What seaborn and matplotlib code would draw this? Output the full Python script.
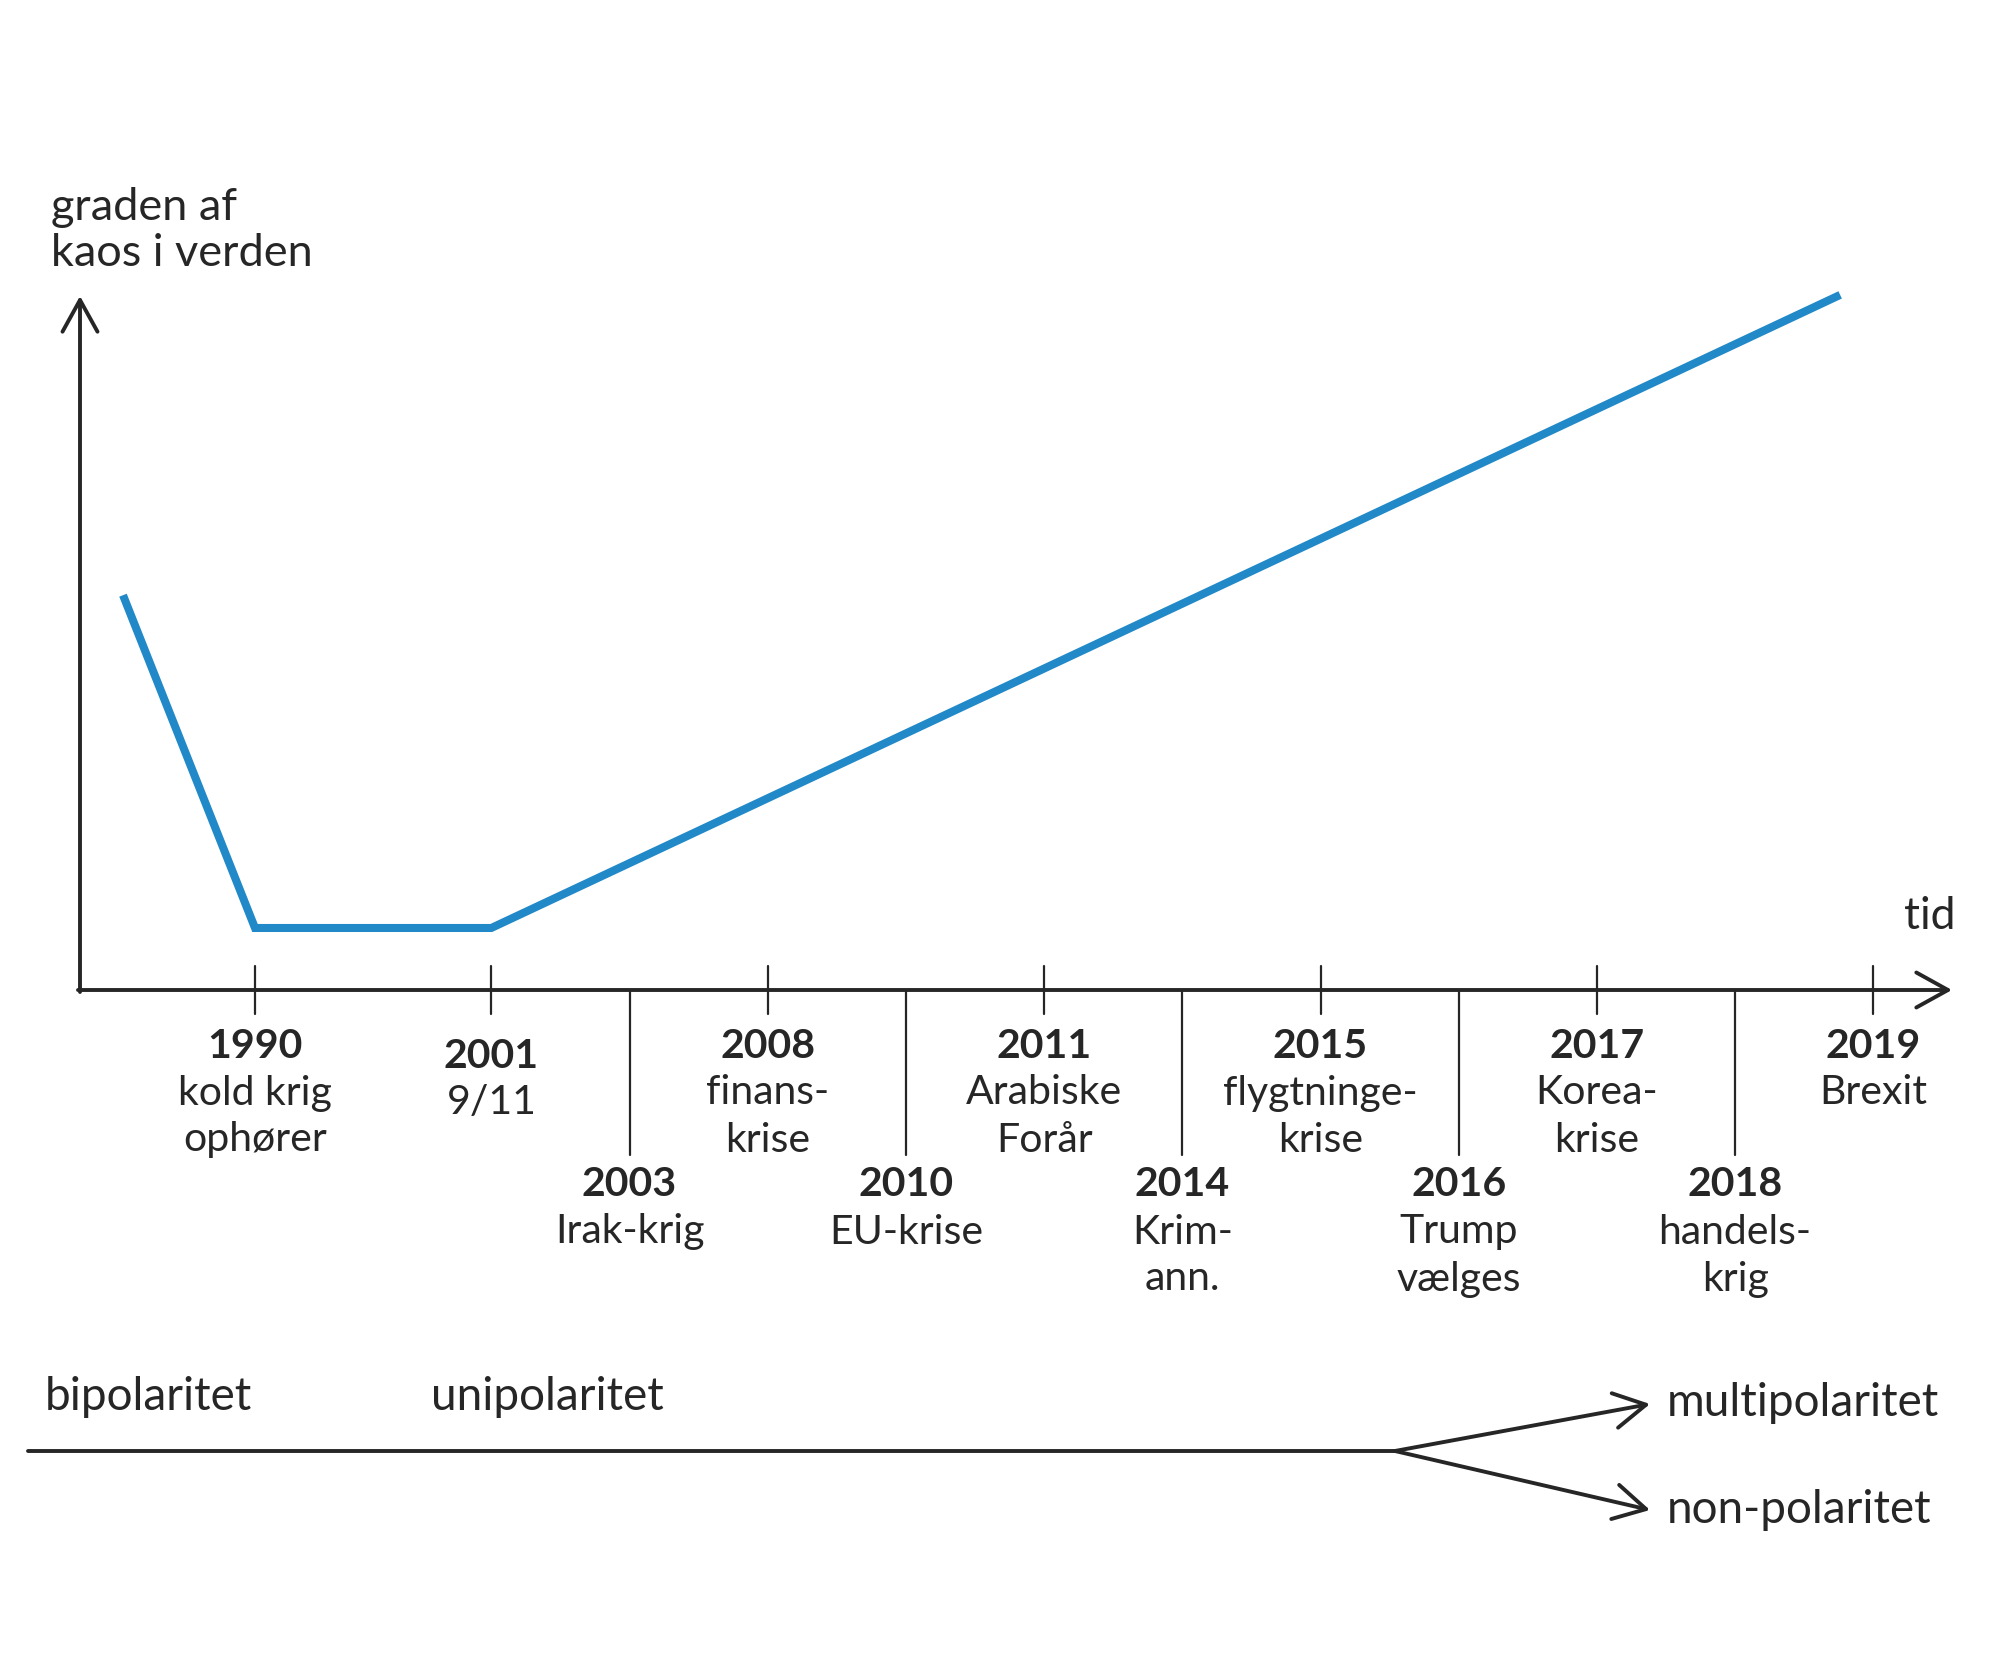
import numpy as np
import pandas as pd
import matplotlib
matplotlib.use("Agg")
import matplotlib.pyplot as plt
import seaborn as sns

# events on the time axis (upper row sits above, lower row hangs below)
years = ["1990", "2001", "2003", "2008", "2010", "2011",
         "2014", "2015", "2016", "2017", "2018", "2019"]
events = [["kold krig", "ophører"], ["9/11"], ["Irak-krig"], ["finans-", "krise"],
          ["EU-krise"], ["Arabiske", "Forår"], ["Krim-", "ann."],
          ["flygtninge-", "krise"], ["Trump", "vælges"], ["Korea-", "krise"],
          ["handels-", "krig"], ["Brexit"]]
lower_row = ["2003", "2010", "2014", "2016", "2018"]

# chaos curve (x in event slots, 1990 = 0)
chaos_x = [-0.955, 0.0, 1.71, 11.47]
chaos_y = [5.64, 0.886, 0.886, 9.93]

polarity_left = ["bipolaritet", "unipolaritet"]
polarity_right = ["multipolaritet", "non-polaritet"]

BLUE = "#2189c8"
INK = "#262626"

sns.set_theme(style="white")
plt.rcParams["font.family"] = ["Lato", "DejaVu Sans"]

fig = plt.figure(figsize=(20, 16.76), dpi=100)
ax = fig.add_axes([0, 0, 1, 1])
ax.set_axis_off()

# slot spacing: 1990 -> 2001 is a longer gap, later events equally spaced
slots = np.r_[0.0, 1.71 + np.arange(len(years) - 1)]

PX0, PXU, PY0, PYU = 255, 138.2, 990, 70


def P(xp, yp):
    return (xp - PX0) / PXU, (PY0 - yp) / PYU


ax.set_xlim(P(0, 0)[0], P(2000, 0)[0])
ax.set_ylim(P(0, 1676)[1], P(0, 0)[1])

df = pd.DataFrame({"x": chaos_x, "y": chaos_y})
sns.lineplot(data=df, x="x", y="y", ax=ax, color=BLUE, lw=5.8,
             sort=False, solid_capstyle="butt", solid_joinstyle="miter")

# axes arrows
arr = dict(arrowstyle="->,head_length=1.9,head_width=1.05", lw=2.8,
           color=INK, shrinkA=0, shrinkB=0)
ax.annotate("", xy=P(1952, 990), xytext=P(78, 990), arrowprops=arr)
ax.annotate("", xy=P(80, 296), xytext=P(80, 992), arrowprops=arr)

ax.text(*P(51, 208), "graden af", fontsize=32.5, color=INK, va="center", ha="left")
ax.text(*P(51, 254), "kaos i verden", fontsize=32.5, color=INK, va="center", ha="left")
ax.text(*P(1956, 916), "tid", fontsize=32, color=INK, va="center", ha="right")

FS = 29.5
lh = 47 / PYU
for x, yr, ev in zip(slots, years, events):
    if yr in lower_row:
        ax.plot([x, x], [0, P(0, 1155)[1]], color=INK, lw=1.6)
        y0 = P(0, 1185)[1]
    else:
        ax.plot([x, x], [P(0, 966)[1], P(0, 1014)[1]], color=INK, lw=1.6)
        y0 = P(0, 1056 if yr == "2001" else 1046)[1]
    ax.text(x, y0, yr, fontsize=FS, fontweight="bold", color=INK,
            ha="center", va="center")
    for i, line in enumerate(ev):
        ax.text(x, y0 - (i + 1) * lh, line, fontsize=FS, color=INK,
                ha="center", va="center")

# polarity diagram
ax.plot(*zip(P(28, 1451), P(1397, 1451)), color=INK, lw=2.8)
ax.annotate("", xy=P(1650, 1404), xytext=P(1395, 1451), arrowprops=arr)
ax.annotate("", xy=P(1650, 1510), xytext=P(1395, 1451), arrowprops=arr)

PFS = 33
ax.text(*P(45, 1397), polarity_left[0], fontsize=PFS, color=INK, va="center")
ax.text(*P(431, 1397), polarity_left[1], fontsize=PFS, color=INK, va="center")
ax.text(*P(1667, 1403), polarity_right[0], fontsize=PFS, color=INK, va="center")
ax.text(*P(1667, 1510), polarity_right[1], fontsize=PFS, color=INK, va="center")

fig.savefig("out.png", dpi=100, facecolor="white")
